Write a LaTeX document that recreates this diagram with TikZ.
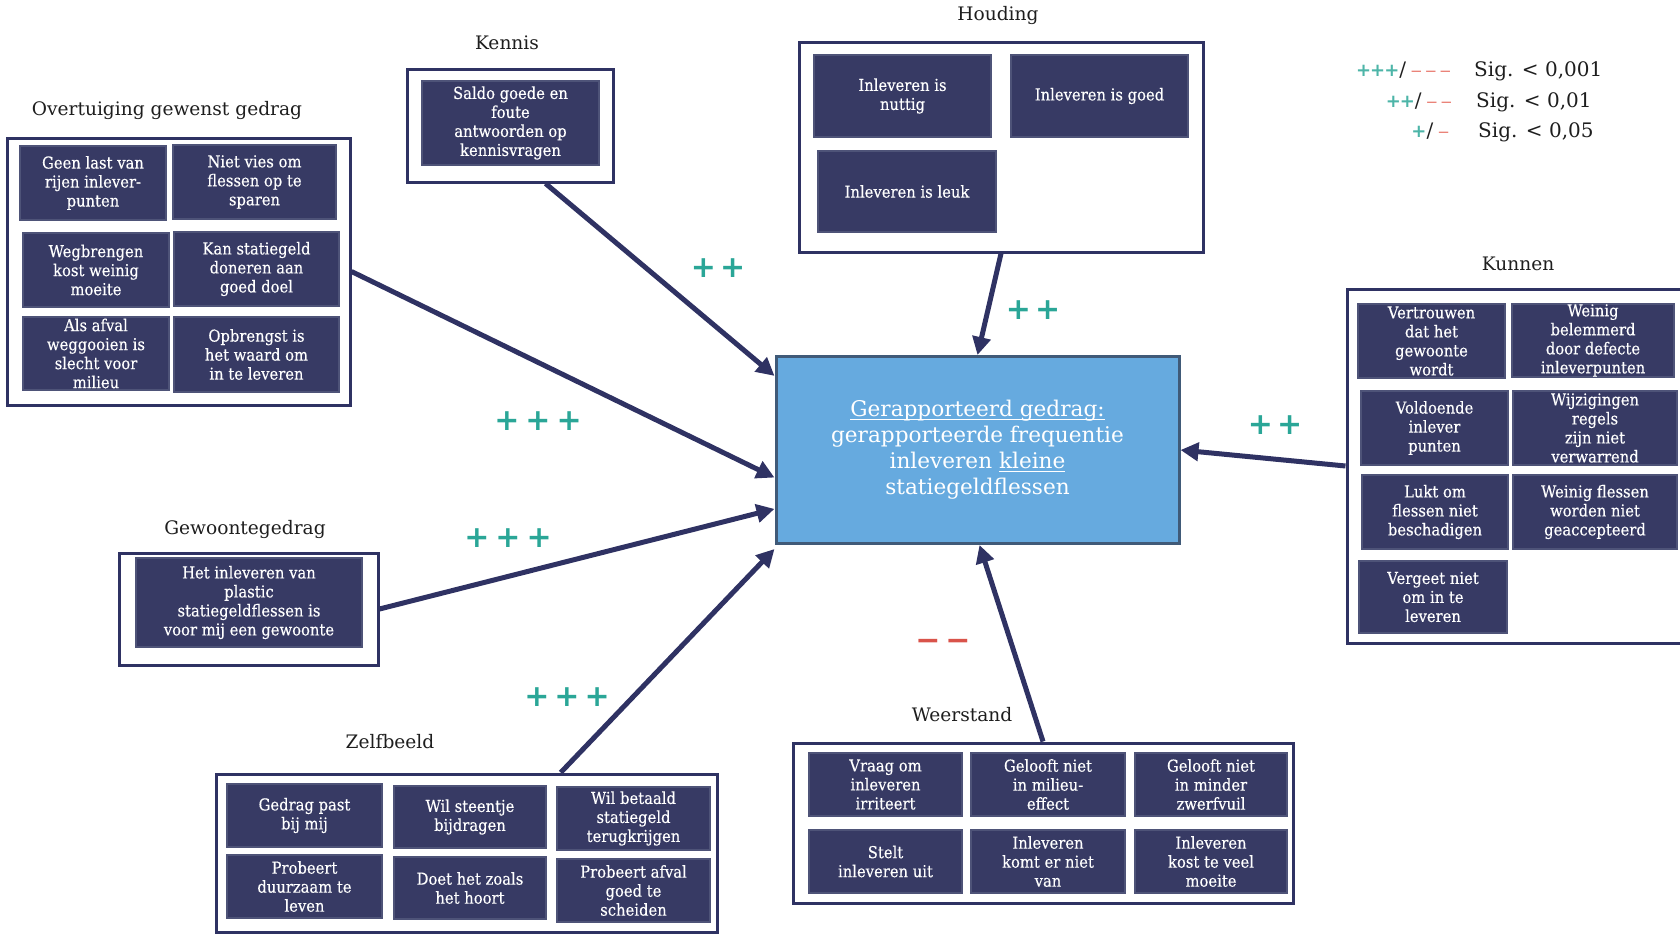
\documentclass[tikz,border=0pt]{standalone}
\usepackage{fontspec}
\setmainfont{DejaVu Serif}
\newfontfamily\boxfont{DejaVu Serif}[FakeStretch=0.9,FakeBold=0.3]
\newfontfamily\symfont{DejaVu Sans}
\usetikzlibrary{arrows.meta,calc}
\definecolor{navy}{HTML}{373A64}
\definecolor{navyline}{HTML}{2F3263}
\definecolor{innerline}{HTML}{4E5378}
\definecolor{centfill}{HTML}{66AADF}
\definecolor{centline}{HTML}{405A78}
\definecolor{tealp}{HTML}{2AA697}
\definecolor{redm}{HTML}{D9534A}
\definecolor{tealleg}{HTML}{4DB5A8}
\definecolor{redleg}{HTML}{E8796E}
\definecolor{titlecol}{HTML}{1E1E1E}
\newlength\ulw
\newcommand\myul[1]{\settowidth{\ulw}{#1}\rlap{\smash{\rule[-3pt]{\ulw}{1.3pt}}}#1}
\newcommand\ibox[6]{\node[innerbox,minimum width=#4pt,minimum height=#5pt] (#1) at (#2,#3) {#6};}
\newcommand\obox[5]{\node[outerbox,minimum width=#4pt,minimum height=#5pt] (#1) at (#2,#3) {};}
\newcommand\lplus[1]{{\color{tealleg}\symfont\bfseries\fontsize{18}{18}\selectfont #1}}
\newcommand\lminus[1]{{\color{redleg}\symfont\fontsize{15}{15}\selectfont #1}}
\begin{document}
\begin{tikzpicture}[x=1pt,y=-1pt,
  outerbox/.style={draw=navyline,line width=3pt,fill=white,inner sep=0pt},
  innerbox/.style={draw=innerline,line width=1.5pt,fill=navy,text=white,
    font=\boxfont\fontsize{16.4}{19}\selectfont,align=center,inner sep=0pt},
  grouptitle/.style={text=titlecol,font=\fontsize{18.6}{22}\selectfont,inner sep=0pt},
  centbox/.style={draw=centline,line width=3pt,fill=centfill,text=white,
    font=\fontsize{21.6}{26}\selectfont,align=center,inner sep=0pt},
  conn/.style={draw=navyline,line width=5pt,-{Triangle[length=18pt,width=18pt]}},
  plus/.style={text=tealp,font=\symfont\bfseries\fontsize{30}{30}\selectfont,inner sep=0pt},
  minus/.style={text=redm,font=\symfont\bfseries\fontsize{30}{30}\selectfont,inner sep=0pt},
  legtxt/.style={text=titlecol,font=\fontsize{20}{24}\selectfont,inner sep=0pt},
]
\useasboundingbox (0,0) rectangle (1680,934);
\clip (0,0) rectangle (1680,934);

% group titles
\node[grouptitle] (tovt) at (167,110) {Overtuiging gewenst gedrag};
\node[grouptitle] (tken) at (507,43) {Kennis};
\node[grouptitle] (thou) at (998,16) {Houding};
\node[grouptitle] (tkun) at (1518,264) {Kunnen};
\node[grouptitle] (tgew) at (245,529) {Gewoontegedrag};
\node[grouptitle] (tzel) at (390,742) {Zelfbeeld};
\node[grouptitle] (twee) at (962,715) {Weerstand};

% outer boxes
\obox{ovt}{178.5}{271.5}{343}{267}
\obox{ken}{510}{125.5}{206}{113}
\obox{hou}{1001}{147.5}{404}{209}
\obox{kun}{1523.5}{466}{353}{354}
\obox{gew}{248.5}{609}{259}{112}
\obox{zel}{466.5}{853}{501}{158}
\obox{wee}{1043}{823}{500}{160}

% inner boxes: Overtuiging
\ibox{o1}{93}{183}{146}{74}{Geen last van\\rijen inlever-\\punten}
\ibox{o2}{254.5}{182}{163}{74}{Niet vies om\\flessen op te\\sparen}
\ibox{o3}{96}{270}{146}{74}{Wegbrengen\\kost weinig\\moeite}
\ibox{o4}{256.5}{269}{165}{74}{Kan statiegeld\\doneren aan\\goed doel}
\ibox{o5}{96}{353.5}{146}{73}{Als afval\\weggooien is\\slecht voor\\milieu}
\ibox{o6}{256.5}{354.5}{165}{75}{Opbrengst is\\het waard om\\in te leveren}
% Kennis
\ibox{k1}{510.5}{123}{177}{84}{Saldo goede en\\foute\\antwoorden op\\kennisvragen}
% Houding
\ibox{h1}{902.5}{96}{177}{82}{Inleveren is\\nuttig}
\ibox{h2}{1099.5}{96}{177}{82}{Inleveren is goed}
\ibox{h3}{907}{191.5}{178}{81}{Inleveren is leuk}
% Kunnen
\ibox{u1}{1431.5}{341}{147}{74}{Vertrouwen\\dat het\\gewoonte\\wordt}
\ibox{u2}{1593}{340.5}{162}{73}{Weinig\\belemmerd\\door defecte\\inleverpunten}
\ibox{u3}{1434.5}{428}{147}{74}{Voldoende\\inlever\\punten}
\ibox{u4}{1595}{428}{164}{74}{Wijzigingen\\regels\\zijn niet\\verwarrend}
\ibox{u5}{1435}{512}{146}{74}{Lukt om\\flessen niet\\beschadigen}
\ibox{u6}{1595}{512}{164}{74}{Weinig flessen\\worden niet\\geaccepteerd}
\ibox{u7}{1433}{597}{148}{72}{Vergeet niet\\om in te\\leveren}
% Gewoontegedrag
\ibox{g1}{249}{602.5}{226}{89}{Het inleveren van\\plastic\\statiegeldflessen is\\voor mij een gewoonte}
% Zelfbeeld
\ibox{z1}{304.5}{815.5}{155}{63}{Gedrag past\\bij mij}
\ibox{z2}{470}{817}{152}{62}{Wil steentje\\bijdragen}
\ibox{z3}{633.5}{818.5}{153}{63}{Wil betaald\\statiegeld\\terugkrijgen}
\ibox{z4}{304.5}{886.5}{155}{63}{Probeert\\duurzaam te\\leven}
\ibox{z5}{470}{888}{152}{62}{Doet het zoals\\het hoort}
\ibox{z6}{633.5}{890.5}{153}{63}{Probeert afval\\goed te\\scheiden}
% Weerstand
\ibox{w1}{885.5}{784.5}{153}{63}{Vraag om\\inleveren\\irriteert}
\ibox{w2}{1048}{784.5}{154}{63}{Gelooft niet\\in milieu-\\effect}
\ibox{w3}{1211}{784.5}{152}{63}{Gelooft niet\\in minder\\zwerfvuil}
\ibox{w4}{885.5}{861.5}{153}{63}{Stelt\\inleveren uit}
\ibox{w5}{1048}{861.5}{154}{63}{Inleveren\\komt er niet\\van}
\ibox{w6}{1211}{861.5}{152}{63}{Inleveren\\kost te veel\\moeite}

% central box
\node[centbox,minimum width=403pt,minimum height=187pt] (cen) at (977.5,450)
  {\myul{Gerapporteerd gedrag:}\\gerapporteerde frequentie\\inleveren \myul{kleine}\\statiegeldflessen};

% connectors
\draw[conn] ($(ken.south west)!0.67!(ken.south east)$) -- ($(cen.north west)!0.11!(cen.south west)$);
\draw[conn] (ovt.east) -- ($(cen.north west)!0.645!(cen.south west)$);
\draw[conn] (gew.east) -- ($(cen.north west)!0.81!(cen.south west)$);
\draw[conn] ($(zel.north west)!0.687!(zel.north east)$) -- ([yshift=-4pt]cen.south west);
\draw[conn] (hou.south) -- (cen.north);
\draw[conn] (kun.west) -- (cen.east);
\draw[conn] (wee.north) -- ([xshift=2pt]cen.south);

% significance labels
\node[plus] (pken) at (718,268) {+\kern4pt+};
\node[plus] (povt) at (538,421) {+\kern6pt+\kern6pt+};
\node[plus] (pgew) at (508,538) {+\kern6pt+\kern6pt+};
\node[plus] (pzel) at (567,697) {+\kern5pt+\kern5pt+};
\node[plus] (phou) at (1033,310) {+\kern4pt+};
\node[plus] (pkun) at (1275,425) {+\kern4pt+};
\node[minus] (mwee) at (943,645) {−\kern5pt−};

% legend
\node[legtxt,anchor=base west] (s1) at (1474,77) {Sig. < 0,001};
\node[legtxt,anchor=base west] (s2) at (1476,107) {Sig. < 0,01};
\node[legtxt,anchor=base west] (s3) at (1478,137) {Sig. < 0,05};
\node[legtxt,anchor=base east] (l1) at (1452,77)
  {\lplus{+\kern-1pt+\kern-1pt+}/\kern4pt\lminus{−\kern2pt−\kern2pt−}};
\node[legtxt,anchor=base east] (l2) at (1453,107)
  {\lplus{+\kern-1pt+}/\kern4pt\lminus{−\kern2pt−}};
\node[legtxt,anchor=base east] (l3) at (1450,137)
  {\lplus{+}/\kern4pt\lminus{−}};
\end{tikzpicture}
\end{document}
